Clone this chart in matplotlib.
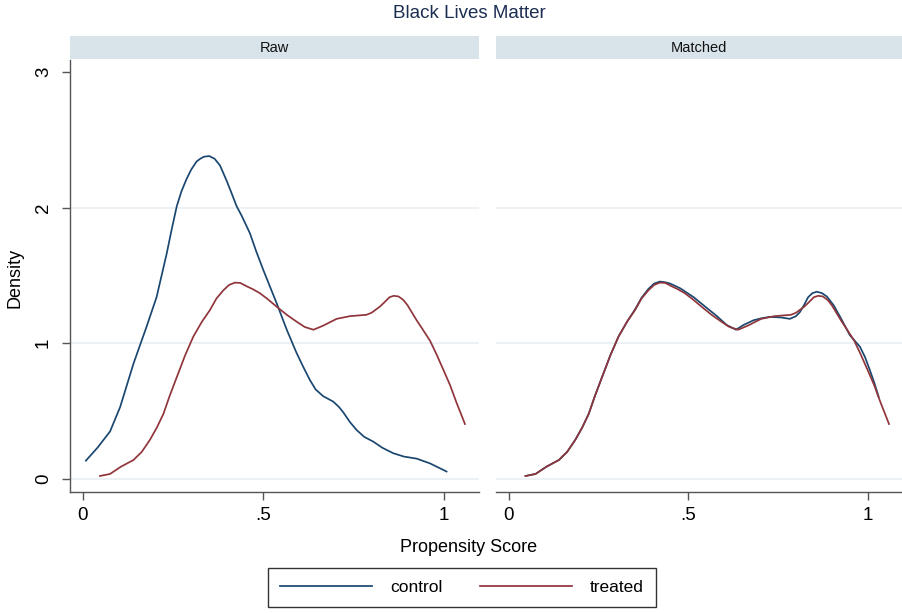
import matplotlib
matplotlib.use("Agg")
import matplotlib.pyplot as plt
from matplotlib.lines import Line2D
from matplotlib.patches import Rectangle

plt.rcParams['font.family'] = ['Liberation Sans', 'DejaVu Sans']

# ---- data ----
raw_control_x = [0.008, 0.04, 0.075, 0.103, 0.14, 0.176, 0.204, 0.218, 0.232, 0.246, 0.26,
                 0.273, 0.287, 0.30, 0.315, 0.325, 0.335, 0.350, 0.365, 0.38, 0.398, 0.41,
                 0.426, 0.44, 0.463, 0.48, 0.50, 0.537, 0.565, 0.592, 0.61, 0.629, 0.645,
                 0.666, 0.68, 0.694, 0.71, 0.722, 0.74, 0.759, 0.78, 0.805, 0.83, 0.86,
                 0.89, 0.925, 0.962, 0.985, 1.008]
raw_control_y = [0.135, 0.23, 0.35, 0.53, 0.85, 1.12, 1.34, 1.50, 1.66, 1.84, 2.01,
                 2.12, 2.21, 2.28, 2.34, 2.36, 2.375, 2.38, 2.36, 2.31, 2.20, 2.12,
                 2.01, 1.94, 1.81, 1.68, 1.54, 1.295, 1.10, 0.93, 0.83, 0.73, 0.66,
                 0.61, 0.59, 0.57, 0.53, 0.49, 0.42, 0.36, 0.31, 0.275, 0.23, 0.19,
                 0.165, 0.15, 0.115, 0.085, 0.055]

treated_x = [0.047, 0.075, 0.105, 0.14, 0.163, 0.186, 0.205, 0.223, 0.24, 0.26, 0.283,
             0.306, 0.33, 0.352, 0.37, 0.389, 0.405, 0.421, 0.436, 0.454, 0.47, 0.49,
             0.51, 0.537, 0.565, 0.592, 0.615, 0.639, 0.666, 0.703, 0.74, 0.786, 0.80,
             0.823, 0.835, 0.85, 0.862, 0.875, 0.888, 0.90, 0.925, 0.94, 0.962, 0.98,
             1.0, 1.018, 1.036, 1.048, 1.059]
treated_y = [0.022, 0.037, 0.09, 0.14, 0.20, 0.29, 0.38, 0.48, 0.61, 0.75, 0.91,
             1.05, 1.16, 1.245, 1.33, 1.39, 1.43, 1.447, 1.445, 1.42, 1.40, 1.37,
             1.33, 1.27, 1.21, 1.16, 1.12, 1.10, 1.13, 1.18, 1.20, 1.21, 1.225,
             1.27, 1.30, 1.34, 1.35, 1.345, 1.32, 1.28, 1.17, 1.11, 1.02, 0.92,
             0.80, 0.69, 0.56, 0.48, 0.405]

matched_control_x = [0.047, 0.075, 0.105, 0.14, 0.163, 0.186, 0.205, 0.223, 0.24, 0.26, 0.283,
                     0.306, 0.33, 0.352, 0.37, 0.389, 0.405, 0.421, 0.436, 0.45, 0.478, 0.515,
                     0.552, 0.58, 0.607, 0.633, 0.654, 0.682, 0.705, 0.728, 0.760, 0.783,
                     0.80, 0.811, 0.822, 0.834, 0.846, 0.858, 0.872, 0.886, 0.905, 0.923,
                     0.95, 0.978, 0.992, 1.006, 1.018, 1.03]
matched_control_y = [0.022, 0.037, 0.09, 0.14, 0.20, 0.29, 0.38, 0.48, 0.61, 0.75, 0.91,
                     1.05, 1.16, 1.25, 1.335, 1.40, 1.44, 1.455, 1.45, 1.44, 1.405, 1.34,
                     1.26, 1.20, 1.135, 1.10, 1.135, 1.17, 1.185, 1.195, 1.19, 1.18,
                     1.20, 1.23, 1.28, 1.34, 1.37, 1.38, 1.37, 1.345, 1.28, 1.195,
                     1.06, 0.975, 0.90, 0.80, 0.71, 0.607]

panels = ["Raw", "Matched"]
y_ticks = [0, 1, 2, 3]
y_ticklabels = ["0", "1", "2", "3"]
x_ticks = [0, 0.5, 1]
x_ticklabels = ["0", ".5", "1"]
series_names = ["control", "treated"]

NAVY = "#1a476f"
MAROON = "#90353b"
SPINE = "#555555"
GRID = "#e6eef1"
STRIP = "#d8e4ea"

W, H = 903, 613
fig = plt.figure(figsize=(W / 100, H / 100), dpi=100)

def fx(px):
    return px / W

def fy(py):
    return 1 - py / H

ax_top, ax_bot = 60, 492
axes_px = [(70, 479), (495.7, 903)]
strip_px = (36, 59)

axes = []
for i, (l, r) in enumerate(axes_px):
    ax = fig.add_axes([fx(l), fy(ax_bot), fx(r - l), (ax_bot - ax_top) / H])
    ax.set_xlim(-0.036, 1.098)
    ax.set_ylim(-0.096, 3.088)
    for y in [0, 1, 2]:
        ax.axhline(y, color=GRID, lw=1.1, zorder=0)
    for s in ["top", "right"]:
        ax.spines[s].set_visible(False)
    ax.spines["bottom"].set_color(SPINE)
    ax.spines["bottom"].set_linewidth(1.0)
    ax.set_xticks(x_ticks)
    ax.set_xticklabels(x_ticklabels, fontsize=13.5)
    ax.tick_params(axis="x", direction="out", length=6, width=1.0, color=SPINE, pad=5)
    if i == 0:
        ax.spines["left"].set_color(SPINE)
        ax.spines["left"].set_linewidth(1.0)
        ax.set_yticks(y_ticks)
        ax.set_yticklabels(y_ticklabels, fontsize=13.5, rotation=90, va="center")
        ax.tick_params(axis="y", direction="out", length=6, width=1.0, color=SPINE, pad=7)
    else:
        ax.spines["left"].set_visible(False)
        ax.set_yticks([])
    # strip header
    sa = fig.add_axes([fx(l), fy(strip_px[1]), fx(r - l), (strip_px[1] - strip_px[0]) / H])
    sa.set_xlim(0, 1)
    sa.set_ylim(0, 1)
    sa.axis("off")
    sa.add_patch(Rectangle((0, 0), 1, 1, facecolor=STRIP, edgecolor="none"))
    sa.text(0.5, 0.5, panels[i], ha="center", va="center", fontsize=10.5, color="#111111")
    axes.append(ax)

lw = 1.25
axes[0].plot(raw_control_x, raw_control_y, color=NAVY, lw=lw)
axes[0].plot(treated_x, treated_y, color=MAROON, lw=lw)
axes[1].plot(matched_control_x, matched_control_y, color=NAVY, lw=lw)
axes[1].plot(treated_x, treated_y, color=MAROON, lw=lw)

fig.text(fx(469), fy(14), "Black Lives Matter", ha="center", va="center",
         fontsize=13.5, color="#1c2d52")
fig.text(fx(469), fy(547), "Propensity Score", ha="center", va="center", fontsize=13)
fig.text(fx(15), fy(278), "Density", ha="center", va="center", fontsize=13, rotation=90)

handles = [Line2D([], [], color=NAVY, lw=lw), Line2D([], [], color=MAROON, lw=lw)]
leg = fig.legend(handles, series_names, loc="center", bbox_to_anchor=(fx(462), fy(587.5)),
                 ncol=2, fontsize=12.5, frameon=True, fancybox=False, edgecolor="black",
                 handlelength=5.3, handletextpad=1.0, columnspacing=2.2,
                 borderpad=0.7, borderaxespad=0)
leg.get_frame().set_linewidth(1.0)

fig.savefig("out.png", dpi=100)
